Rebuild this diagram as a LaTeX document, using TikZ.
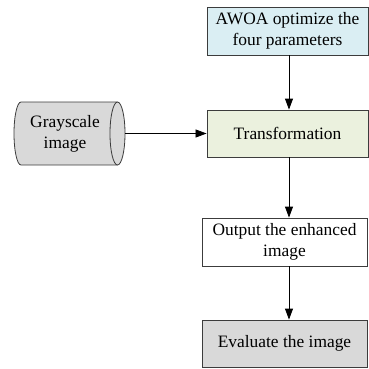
\documentclass[tikz,border=0pt]{standalone}
\usepackage{fontspec}
\setmainfont{Liberation Serif}
\usetikzlibrary{arrows.meta, positioning, shapes.geometric}
\definecolor{awoablue}{RGB}{218,238,243}
\definecolor{transgreen}{RGB}{235,241,222}
\definecolor{boxgray}{RGB}{217,217,217}
\definecolor{edgegray}{RGB}{60,60,60}

\begin{document}
\begin{tikzpicture}[x=1bp, y=-1bp,
  font=\fontsize{17.4bp}{21bp}\selectfont,
  stepbox/.style={draw=edgegray, line width=0.8bp, align=center, inner sep=0pt},
  flow/.style={line width=0.8bp, -{Triangle[length=11bp,width=8bp]}}]
\useasboundingbox (0,0) rectangle (369,369);
\node[stepbox, fill=awoablue, minimum width=161bp, minimum height=48bp] (awoa) at (287.5,31) {AWOA optimize the\\four parameters};
\node[stepbox, fill=transgreen, minimum width=161bp, minimum height=47bp] (trans) at (287.5,133.5) {Transformation};
\node[stepbox, minimum width=165bp, minimum height=48bp] (output) at (284.5,242) {Output the enhanced\\image};
\node[stepbox, fill=boxgray, minimum width=165bp, minimum height=47bp] (eval) at (284.5,343.5) {Evaluate the image};
% grayscale image drum
\draw[draw=edgegray, line width=0.8bp, fill=boxgray] (21,165) -- (117.5,165)
  arc[x radius=7.5, y radius=31.5, start angle=90, end angle=-90] -- (21,102)
  arc[x radius=7, y radius=31.5, start angle=270, end angle=90] -- cycle;
\draw[draw=edgegray, line width=0.8bp] (117.5,102) arc[x radius=7.5, y radius=31.5, start angle=270, end angle=90];
\node[align=center, inner sep=0pt] (gray) at (65,133.5) {Grayscale\\image};
\coordinate (grayend) at (125,133.5);
% arrows
\coordinate (ax) at (289,0);
\draw[flow] (awoa.south -| ax) -- (trans.north -| ax);
\draw[flow] (trans.south -| ax) -- (output.north -| ax);
\draw[flow] (output.south -| ax) -- (eval.north -| ax);
\draw[flow] (grayend) -- (trans.west);
\end{tikzpicture}
\end{document}
